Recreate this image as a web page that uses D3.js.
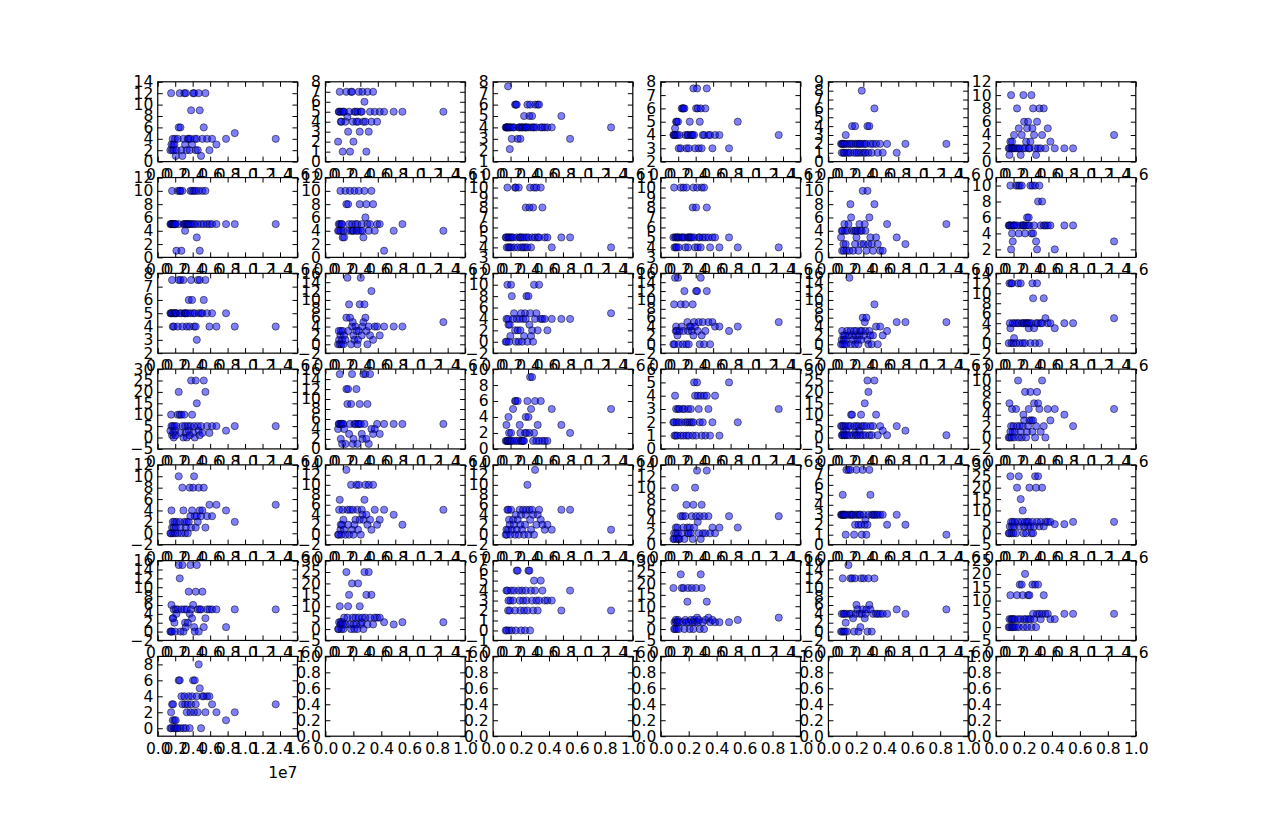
<!DOCTYPE html>
<html><head><meta charset="utf-8">
<script src="https://cdn.jsdelivr.net/npm/d3@7"></script>
<style>body{margin:0;background:#fff}svg{display:block}</style>
</head><body><svg id="c" width="1262" height="818"></svg>
<script>
// shared x values (millions)
const popMillions=[1.45,1.53,1.57,1.64,1.72,1.76,1.83,1.91,1.98,2.06, 2.14,2.29,2.40,2.52,2.60,2.71,2.82,2.94,3.05,3.13, 3.21,3.32,3.44,3.55,3.66,3.74,3.82,3.93,4.05,4.16, 4.24,4.35,4.47,4.58,4.69,4.81,4.96,5.11,5.27,5.46, 5.65,5.92,6.22, 6.72,7.82,8.82,13.51];

const y01=[2,12,3,2,4,3,2,3,4,1, 2,4,6,12,6,2,1,4,12,3, 12,2,4,4,2,4,9,3,12,12, 4,2,4,2,12,9,1,4,6,12, 4,2,4, 3,4,5,4];
const y02=[2,5,5,7,5,4,4,5,1,5, 5,4,7,4.5,3,5,1,7,7,4, 2,5,5,4,5,4,7,3,5,5, 7,4,6,4,1,7,3,5,4,7, 5,4,5, 5,5,5,5];
const y03=[4,4,4,4,7.6,4,4,2.1,4,4, 3,4,4,6,6,6,3,4,4,3, 4,4,4,5,4,4,4,6,4,5, 6,4,5,4,4,6,4,6,6,4, 4,4,4, 4,5,3,4];
const y04=[4,4,4,4.5,4,5,5,4,5,3, 4,3,6,6,6,6,4,3,4,4, 3,5,4,4,4,7.5,4,3,6,7.5, 6,3,5,6,3,4,4,6,7.5,4, 4,3,4, 4,3,5,4];
const y05=[2,1,2,2,1,2,1,2,3,1, 2,1,2,1,2,4,2,1,4,2, 1,2,1,2,2,1,8,2,1,2, 1,2,4,1,4,2,1,2,6,2, 1,2,1, 2,1,2,2];
const y06=[2,1,2,3,10,2,3,2,2,4, 2,2,8,2,5,2,1,4,2,10, 6,2,3,5,6,2,2,3,10,5, 8,4,2,1,6,2,8,2,4,8, 2,5,3, 2,2,2,4];
const y07=[5,5,5,10,5,5,5,5,5,5, 1,10,5,10,10,1,10,5,5,4, 5,5,5,5,5,10,5,10,5,10, 5,10,3,5,10,1,5,10,5,10, 5,5,5, 5,5,5,5];
const y08=[4,5,4,5,10,4,5,5,3,4, 3,10,8,4,8,5,10,4,5,4, 4,10,5,4,5,4,10,8,4,5, 4,3,10,6,8,5,4,5,10,8, 4,5,5, 1,4,5,4];
const y09=[5,5,4,10,5,4,5,4,5,4, 5,5,4,10,10,5,4,10,5,5, 4,5,4,5,4,8,5,4,5,8, 10,4,5,8,10,5,10,5,5,10, 8,5,5, 4,5,5,4];
const y10=[5,10,4,5,4,5,4,5,5,4, 5,10,5,5,10,5,4,10,5,4, 5,5,5,5,8,10,5,4,8,10, 4,5,5,4,10,5,10,5,8,5, 4,5,5, 4,5,4,4];
const y11=[3,4,1,4,2,1,5,4,2,1, 4,5,1,8,6,4,1,4,2,4, 3,4,1,5,4,2,4,10,2,5, 4,1,10,2,6,3,2,1,8,3, 2,1,1, 5,3,2,5];
const y12=[5,5,5,10,2,5,4,3,5,5, 5,10,5,10,4,10,5,10,5,5, 5,4,5,6,5,6,5,10,4,10, 4,5,10,3,2,8,10,5,8,5, 5,5,5, 2,5,5,3];
const y13=[5,5,5,7.5,4,5,4,5,5,5, 5,4,7.5,5,7.5,5,4,7.5,5,5, 5,4,5,6,4,5,7.5,6,5,4, 5,4,3,7.5,5,7.5,5,5,6,7.5, 5,4,5, 4,5,4,4];
const y14=[0,3,1,0,2,3,0,1,3,0, 2,1,6,15,3,9,6,0,4,5, 2,1,4,3,0,1,3,9,15,2, 4,5,9,6,3,0,4,2,12,1, 4,4,2, 4,4,4,5];
const y15=[0,4,0,10,4,3,0,3,1,10, 8,4,5,2,0,4,2,0,4,2, 5,0,4,1,5,4,8,0,8,3, 5,1,2,0,10,4,5,2,10,4, 4,4,2, 4,4,4,5];
const y16=[0,9,0,15,3,4,3,2,15,0, 3,9,4,0,3,12,9,0,5,3, 0,4,4,3,9,2,5,4,12,12, 3,5,0,15,2,5,0,3,12,5, 0,5,4, 4,3,4,5];
const y17=[0,1,3,0,2,1,0,2,1,0, 3,2,15,3,0,2,1,3,0,2, 3,1,0,2,3,1,3,6,2,5, 3,6,1,0,3,2,0,2,9,4, 0,4,2, 3,5,5,5];
const y18=[0,12,4,3,12,0,12,4,0,1, 4,0,4,12,4,0,12,4,0,4, 4,0,4,4,4,3,4,0,4,12, 9,3,0,4,12,4,0,4,4,9, 5,4,4, 3,4,4,5];
const y19=[3,10,5,1,5,2,0,5,3,1, 5,10,20,10,2,10,5,0,10,5, 2,0,5,3,1,5,25,10,2,5, 0,25,15,5,3,1,5,2,25,20, 5,2,5, 5,3,5,5];
const y20=[4,5,5,15,5,2,5,1,5,5, 4,1,12,9,12,3,5,9,15,1, 2,5,5,12,1,5,5,9,5,3, 2,15,5,15,2,9,1,15,4,3, 4,5,3, 5,5,5,5];
const y21=[1,3,1,1,1,4,2,1,1,2, 1,5,1,6,6,1,6,1,3,2, 1,1,1,1,2,4,2,6,4,2, 9,5,9,1,2,6,1,3,1,6, 1,1,1, 5,3,2,5];
const y22=[2,2,1,4,1,3,2,1,3,2, 3,1,2,3,1,3,2,1,2,3, 1,2,3,2,1,2,5,4,1,5, 4,3,2,4,1,2,4,1,4,3, 1,2,4, 1,5,2,3];
const y23=[5,1,5,1,2,5,1,1,5,3, 1,5,1,5,10,10,1,5,2,1, 5,1,5,3,1,10,5,1,5,15, 1,5,25,20,1,5,1,5,25,10, 1,5,3, 1,5,3,1];
const y24=[0,6,0,1,2,0,5,1,2,0, 1,5,2,10,0,2,1,0,2,4, 3,8,0,1,2,5,3,8,3,1, 3,6,0,2,8,6,5,1,10,2, 0,5,3, 5,4,2,5];
const y25=[0,0,4,1,2,0,1,2,0,1, 2,0,10,2,1,0,8,4,2,0, 1,2,0,2,8,3,1,4,8,10, 3,1,3,2,8,4,3,4,8,1, 3,5,3, 5,4,2,5];
const y26=[0,0,5,7,1,2,0,2,5,3, 1,0,13,5,2,0,5,10,1,5, 0,2,3,10,5,1,10,3,0,5, 4,3,7,10,4,2,10,3,1,10, 5,2,3, 5,4,2,5];
const y27=[0,1,0,5,1,5,3,2,0,5, 1,3,2,0,4,1,3,0,5,2, 4,1,5,0,2,4,5,10,0,5, 3,1,5,4,0,13,2,4,5,3, 2,1,2, 1,5,5,1];
const y28=[1,2,1,10,3,2,1,3,2,1, 1,5,2,5,3,1,5,7,3,2, 2,3,2,5,1,7,3,10,5,13, 4,2,5,1,7,2,5,2,13,5, 2,3,2, 3,5,3,5];
const y29=[3,3,3,5,3,3,3,3,1,7.5, 3,7.5,3,7.5,3,3,3,1,2,3, 7.5,3,2,3,3,2,1,7.5,3,2, 2.5,1,2,3,7.5,5,3,3,3,3, 3,3,3, 2,3,2,1];
const y30=[0,0,3,25,5,0,3,5,0,3, 5,0,20,5,25,3,15,5,10,0, 3,5,0,5,3,5,20,3,0,5, 0,3,25,20,5,25,3,5,20,3, 5,5,5, 4,4,5,5];
const y31=[0,0,6,0,3,3,5,2,0,5, 4,5,15,12,0,5,15,0,5,2, 1,5,2,9,4,15,5,3,6,1, 0,9,15,5,0,5,5,9,1,3, 5,5,5, 5,1,5,5];
const y32=[0,0,3,10,2,3,0,3,2,0, 5,2,25,5,10,15,2,0,20,5, 2,0,5,2,0,20,5,10,2,3, 5,0,25,5,15,2,25,5,15,2, 5,5,5, 3,2,3,3];
const y33=[0,4,0,4,2,3,0,2,3,4, 0,3,4,2,0,6,6,4,3,2, 0,4,3,2,0,4,3,2,6,6, 0,4,3,2,5,4,3,2,3,5, 4,3,3, 3,2,4,2];
const y34=[18,0,3,0,4,3,0,3,4,0, 3,24,18,3,18,0,4,3,12,18, 3,0,4,18,3,0,4,3,18,5, 3,4,0,24,18,3,0,4,12,5, 3,4,3, 3,3,4,5];
const y35=[0,4,0,12,4,0,4,0,2,4, 0,15,4,12,4,12,3,0,12,4, 6,5,0,4,1,12,4,5,12,3, 4,5,0,12,6,5,0,4,12,4, 4,4,4, 4,5,4,5];
const y36=[0,3,0,12,3,0,3,0,3,0, 3,0,12,3,0,16,3,16,12,0, 3,20,3,0,12,3,12,3,0,16, 5,3,16,0,5,16,5,3,5,12, 5,5,3, 3,5,5,5];
const y37=[0,2,0,3,1,3,0,1,0,1, 0,0,6,6,0,4,3,0,4,3, 0,2,3,4,0,2,3,4,6,2, 6,3,4,2,8,5,0,4,4,2, 4,4,3, 2,1,2,3];

const panels=[y01,y02,y03,y04,y05,y06,y07,y08,y09,y10,y11,y12,y13,y14,y15,y16,y17,y18,y19,y20,y21,y22,y23,y24,y25,y26,y27,y28,y29,y30,y31,y32,y33,y34,y35,y36,y37];

// y-axis limits and tick step per panel
const yLimits=[[0,14],[0,8],[1,8],[2,8],[0,9],[0,12],
 [0,12],[0,12],[3,11],[3,11],[0,12],[1,11],
 [2,8],[-2,16],[-2,12],[-2,16],[-2,16],[-2,14],
 [-5,30],[0,16],[0,10],[0,6],[-5,30],[-2,12],
 [-2,12],[-2,14],[-2,14],[0,14],[0,8],[-5,30],
 [-2,16],[-5,30],[-1,7],[-5,30],[-2,16],[-5,25],
 [-1,9]];
const yTickSteps=[2,1,1,1,1,2, 2,2,1,1,2,2, 1,2,2,2,2,2, 5,2,2,1,5,2, 2,2,2,2,1,5, 2,5,1,5,2,5, 2];

const xTickLabels=["0.0","0.2","0.4","0.6","0.8","1.0","1.2","1.4","1.6"];
const emptyTickLabels=["0.0","0.2","0.4","0.6","0.8","1.0"];
const offsetLabel="1e7";

const W=1262,H=818,nrows=7,ncols=6;
const L=0.125*W,R=0.9*W,T=0.1*H,B=0.9*H;
const cw=(R-L)/(ncols+(ncols-1)*0.2), gw=cw*0.2;
const ch=(B-T)/(nrows+(nrows-1)*0.2), hg=ch*0.2;
const FS=15.5, FONT="DejaVu Sans", TL=5;
const fmt=v=>String(v).replace("-","\u2212");

const svg=d3.select("#c");
svg.append("rect").attr("width",W).attr("height",H).attr("fill","#fff");

function styleAxis(sel){
  sel.attr("font-size",FS).attr("font-family",FONT);
  sel.select(".domain").remove();
  sel.selectAll(".tick line").attr("stroke","#000").attr("stroke-width",1);
  sel.selectAll(".tick text").attr("fill","#000");
}

for(let k=0;k<nrows*ncols;k++){
  const r=Math.floor(k/ncols), c=k%ncols;
  const x0=L+c*(cw+gw), y0=T+r*(ch+hg);
  const g=svg.append("g").attr("transform",`translate(${x0},${y0})`);
  g.append("rect").attr("width",cw).attr("height",ch).attr("fill","#fff");
  const has=k<panels.length;
  const x=d3.scaleLinear().domain(has?[0,1.6e7]:[0,1]).range([0,cw]);
  const lim=has?yLimits[k]:[0,1];
  const y=d3.scaleLinear().domain(lim).range([ch,0]);
  const xLabels=has?xTickLabels:emptyTickLabels;
  const xt=xLabels.map(s=>has?(+s)*1e7:+s);
  let yt, yLab;
  if(has){
    const st=yTickSteps[k];
    yt=d3.range(Math.ceil(lim[0]/st)*st, lim[1]+1e-9, st);
    yLab=yt.map(fmt);
  } else { yt=emptyTickLabels.map(Number); yLab=emptyTickLabels; }

  if(has){
    g.append("clipPath").attr("id","cp"+k).append("rect").attr("width",cw).attr("height",ch);
    const pts=panels[k].map((v,i)=>({x:popMillions[i]*1e6,y:v}));
    g.append("g").attr("clip-path",`url(#cp${k})`).selectAll("circle").data(pts).join("circle")
      .attr("cx",d=>x(d.x)).attr("cy",d=>y(d.y)).attr("r",3.6)
      .attr("fill","#0000ff").attr("fill-opacity",0.5)
      .attr("stroke","#000").attr("stroke-opacity",0.5).attr("stroke-width",1);
  }
  g.append("g").attr("transform",`translate(0,${ch})`)
    .call(d3.axisBottom(x).tickValues(xt).tickFormat((d,i)=>xLabels[i]).tickSizeInner(-TL).tickSizeOuter(0).tickPadding(7)).call(styleAxis);
  g.append("g")
    .call(d3.axisTop(x).tickValues(xt).tickFormat(()=>"").tickSizeInner(-TL).tickSizeOuter(0)).call(styleAxis);
  g.append("g")
    .call(d3.axisLeft(y).tickValues(yt).tickFormat((d,i)=>yLab[i]).tickSizeInner(-TL).tickSizeOuter(0).tickPadding(4.5)).call(styleAxis);
  g.append("g").attr("transform",`translate(${cw},0)`)
    .call(d3.axisRight(y).tickValues(yt).tickFormat(()=>"").tickSizeInner(-TL).tickSizeOuter(0)).call(styleAxis);
  g.append("rect").attr("width",cw).attr("height",ch).attr("fill","none").attr("stroke","#000").attr("stroke-width",1.2);
  if(has){
    g.append("text").attr("x",cw).attr("y",ch+42).attr("text-anchor","end")
      .attr("font-size",FS).attr("font-family",FONT).attr("fill","#000").text(offsetLabel);
  }
}
</script></body></html>
